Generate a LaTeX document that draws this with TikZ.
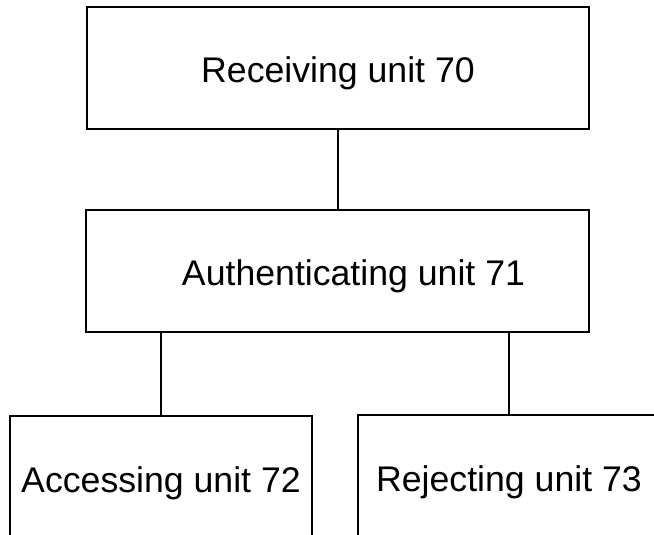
\documentclass[tikz,border=0pt]{standalone}
\usepackage{fontspec}
\setmainfont{Liberation Sans}

\begin{document}
\begin{tikzpicture}[x=.02cm,y=-.02cm,
      unitbox/.style={draw,line width=1.2pt,inner sep=0pt,text height=.6cm,text depth=.04cm,font=\fontsize{20.3}{24}\selectfont}]
      \useasboundingbox (0,0) rectangle (654,535);
      \clip (0,0) rectangle (654,535);
      \node [unitbox,minimum width=10.04cm,minimum height=2.44cm] (recv) at (338,68) {Receiving unit 70};
      \node [unitbox,minimum width=10.06cm,minimum height=2.44cm] (auth) at (337.5,271) {\hspace*{.64cm}Authenticating unit 71};
      \node [unitbox,minimum width=6.04cm,minimum height=2.48cm] (acc) at (161,478) {Accessing unit 72};
      \node [unitbox,minimum width=6.04cm,minimum height=2.48cm] (rej) at (509,477) {Rejecting unit 73};
      \draw [line width=1.2pt] (recv.south) -- (recv.south |- auth.north);
      \draw [line width=1.2pt] (acc.north |- auth.south) -- (acc.north);
      \draw [line width=1.2pt] (rej.north |- auth.south) -- (rej.north);
    \end{tikzpicture}
\end{document}
